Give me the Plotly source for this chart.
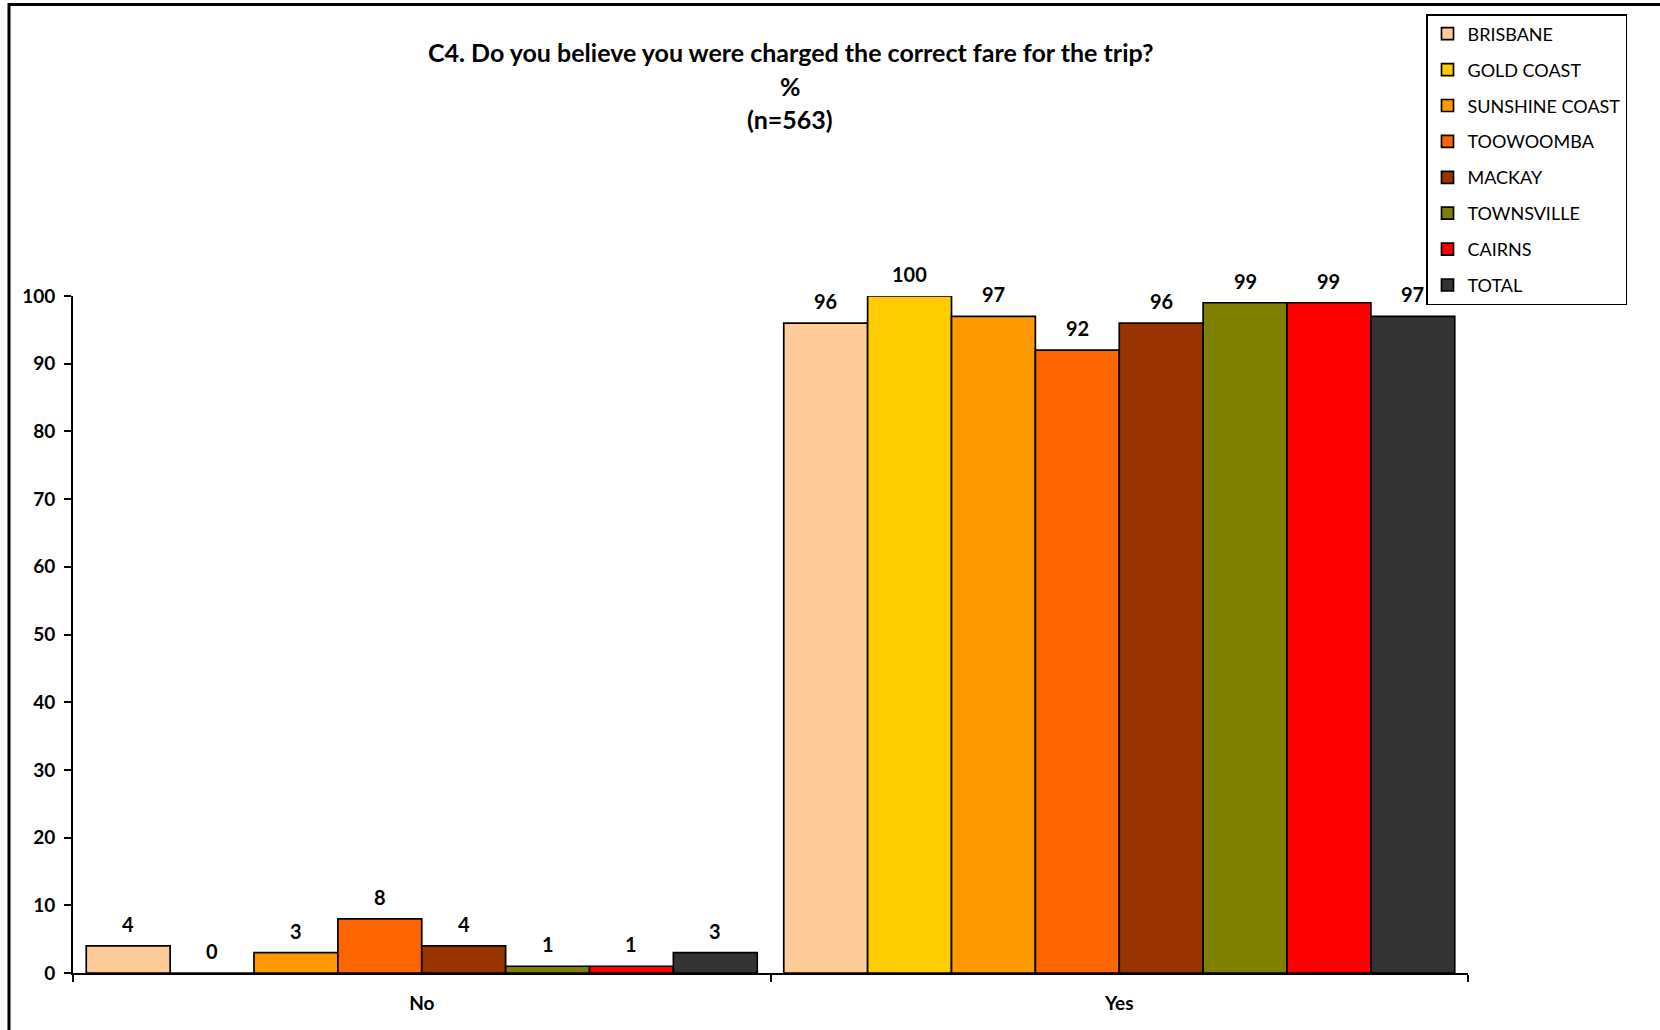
import plotly.graph_objects as go

# Survey answers (percent) by region
categories = ["No", "Yes"]
regions = ["BRISBANE", "GOLD COAST", "SUNSHINE COAST", "TOOWOOMBA",
           "MACKAY", "TOWNSVILLE", "CAIRNS", "TOTAL"]
values = {
    "BRISBANE":       [4, 96],
    "GOLD COAST":     [0, 100],
    "SUNSHINE COAST": [3, 97],
    "TOOWOOMBA":      [8, 92],
    "MACKAY":         [4, 96],
    "TOWNSVILLE":     [1, 99],
    "CAIRNS":         [1, 99],
    "TOTAL":          [3, 97],
}
colors = ["#FFCC99", "#FFCC00", "#FF9900", "#FF6600",
          "#993300", "#808000", "#FF0000", "#333333"]
y_ticks = list(range(0, 101, 10))

title_lines = ["C4. Do you believe you were charged the correct fare for the trip?",
               "%", "(n=563)"]

# Canvas and plot-area geometry (pixels)
W, H = 1660, 1030
ML, MR, MT, MB = 73, 192, 296, 57
PW, PH = W - ML - MR, H - MT - MB
BARGAP = 0.038
FONT = "Lato"


def px_x(px):
    return (px - ML) / PW


def px_y(py):
    return (H - MB - py) / PH


fig = go.Figure()
for name, col in zip(regions, colors):
    fig.add_trace(go.Bar(
        name=name, x=categories, y=values[name],
        marker=dict(color=col, line=dict(color="black", width=1.7)),
        legendgroup=name,
        hoverinfo="x+y+name",
    ))

# Value labels above each bar
bar_px = PW / len(categories) * (1 - BARGAP) / len(regions)
annotations = []
for i, name in enumerate(regions):
    for cat, v in zip(categories, values[name]):
        annotations.append(dict(
            x=cat, y=v, xref="x", yref="y", text=str(v),
            showarrow=False, xanchor="center", yanchor="bottom",
            xshift=(i - (len(regions) - 1) / 2) * bar_px, yshift=8,
            font=dict(family=FONT, size=20, color="black", weight="bold"),
        ))

# Three-line chart heading
for line, py in zip(title_lines, [52, 86, 119]):
    annotations.append(dict(
        x=px_x(790), y=px_y(py), xref="paper", yref="paper",
        text=line, showarrow=False,
        xanchor="center", yanchor="middle",
        font=dict(family=FONT, size=25, color="black", weight="bold"),
    ))

fig.update_layout(
    width=W, height=H,
    margin=dict(l=ML, r=MR, t=MT, b=MB, pad=0),
    paper_bgcolor="white", plot_bgcolor="white",
    barmode="group", bargap=BARGAP, bargroupgap=0,
    font=dict(family=FONT, color="black"),
    showlegend=True,
    legend=dict(
        x=px_x(1426), y=px_y(14), xanchor="left", yanchor="top",
        bordercolor="black", borderwidth=1.5, bgcolor="white",
        font=dict(family=FONT, size=18, color="black"),
        tracegroupgap=9.5, traceorder="grouped",
    ),
    annotations=annotations,
    shapes=[
        # frame lines along the top and left edges
        dict(type="line", xref="paper", yref="paper",
             x0=px_x(8), x1=px_x(W), y0=px_y(4.5), y1=px_y(4.5),
             line=dict(color="black", width=3)),
        dict(type="line", xref="paper", yref="paper",
             x0=px_x(9), x1=px_x(9), y0=px_y(3), y1=px_y(H),
             line=dict(color="black", width=3)),
    ],
)

fig.update_xaxes(
    type="category", showline=True, linecolor="black", linewidth=2,
    ticks="outside", tickson="boundaries", ticklen=7, tickwidth=1.5,
    tickcolor="black", showgrid=False, zeroline=False,
    ticklabelstandoff=12,
    tickfont=dict(family=FONT, size=19, color="black", weight="bold"),
)
fig.update_yaxes(
    range=[0, 100], tickvals=y_ticks, showline=True, linecolor="black",
    linewidth=2, ticks="outside", ticklen=7, tickwidth=1.5,
    tickcolor="black", showgrid=False, zeroline=False,
    ticklabelstandoff=5,
    tickfont=dict(family=FONT, size=19, color="black", weight="bold"),
)

fig.write_html("out.html")
